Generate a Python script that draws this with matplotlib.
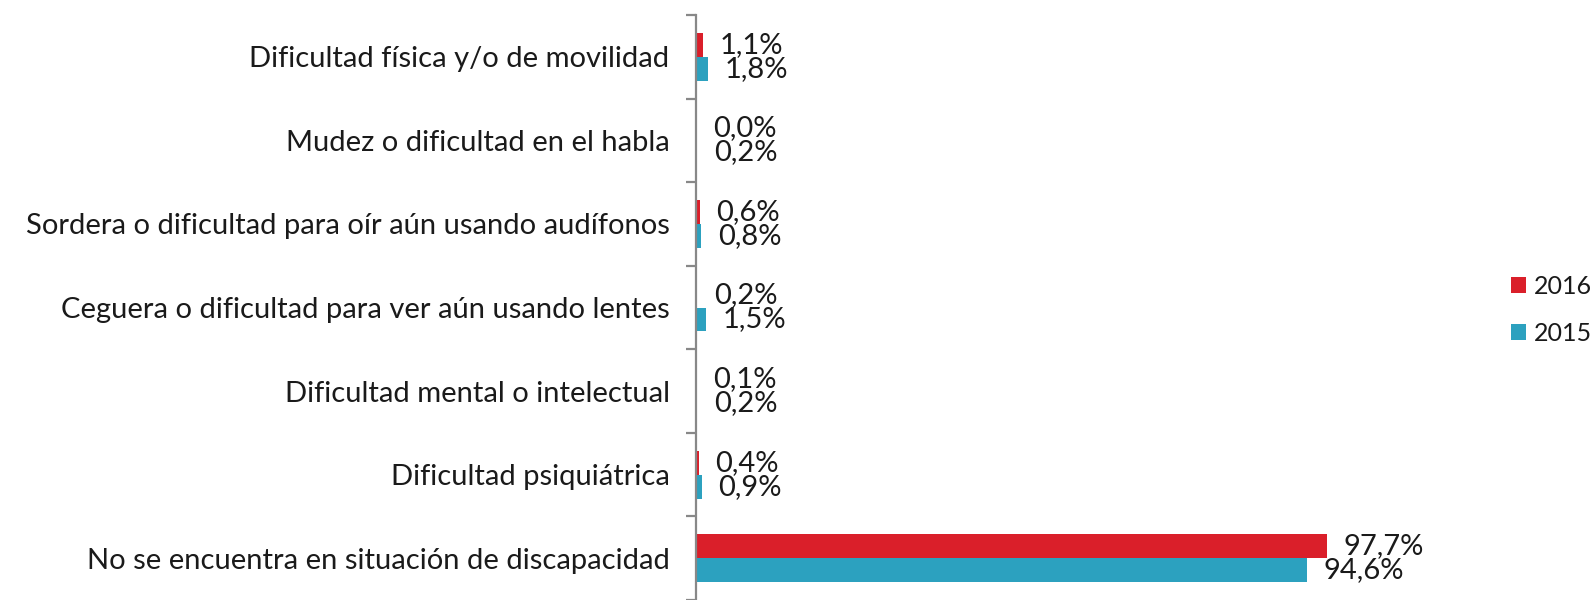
import matplotlib
matplotlib.use("Agg")
import matplotlib.pyplot as plt
import numpy as np

categories = [
    "Dificultad física y/o de movilidad",
    "Mudez o dificultad en el habla",
    "Sordera o dificultad para oír aún usando audífonos",
    "Ceguera o dificultad para ver aún usando lentes",
    "Dificultad mental o intelectual",
    "Dificultad psiquiátrica",
    "No se encuentra en situación de discapacidad",
]
values_2016 = [1.1, 0.0, 0.6, 0.2, 0.1, 0.4, 97.7]
values_2015 = [1.8, 0.2, 0.8, 1.5, 0.2, 0.9, 94.6]
series_names = ["2016", "2015"]
colors = ["#DA1F2A", "#2CA1BF"]

plt.rcParams['font.family'] = ['Lato', 'DejaVu Sans']
W, H, DPI = 1596, 600, 100
fig = plt.figure(figsize=(W / DPI, H / DPI), dpi=DPI)
ax_left = 696 / W
ax_right = 1450 / W
ax = fig.add_axes([ax_left, 0.0, ax_right - ax_left, 1 - 15 / H])

px_per_pct = 6.46
ax.set_xlim(0, (1450 - 696) / px_per_pct)
n = len(categories)
ax.set_ylim(n - 0.5, -0.5)

y = np.arange(n)
bh = 24 / 83.6
ax.barh(y - bh / 2, values_2016, height=bh, color=colors[0], label=series_names[0])
ax.barh(y + bh / 2, values_2015, height=bh, color=colors[1], label=series_names[1])

fs = 21
for i in range(n):
    for vals, off in ((values_2016, -bh / 2), (values_2015, bh / 2)):
        v = vals[i]
        ax.annotate(f"{v:.1f}%".replace(".", ","), xy=(v, y[i] + off),
                    xytext=(12, 0), textcoords="offset points",
                    ha="left", va="center", fontsize=fs, color="#1a1a1a")

for s in ["top", "right", "bottom"]:
    ax.spines[s].set_visible(False)
ax.spines["left"].set_color("#888888")
ax.spines["left"].set_linewidth(1.6)
ax.set_xticks([])
ax.set_yticks(y)
ax.set_yticklabels(categories, fontsize=fs, color="#1a1a1a")
ax.tick_params(axis="y", which="major", length=0, pad=19)
ax.set_yticks(np.arange(n + 1) - 0.5, minor=True)
ax.tick_params(axis="y", which="minor", length=7, width=1.6, color="#888888")

lfs = 18
leg = fig.legend(handles=ax.patches[:1] + ax.patches[n:n + 1], labels=series_names,
                 loc="center left", bbox_to_anchor=(1511 / W, 1 - 310 / H),
                 frameon=False, fontsize=lfs, handlelength=0.6, handleheight=0.6,
                 handletextpad=0.3, labelspacing=0.95, borderpad=0, borderaxespad=0)
for t in leg.get_texts():
    t.set_color("#1a1a1a")

fig.savefig("out.png", dpi=DPI)
